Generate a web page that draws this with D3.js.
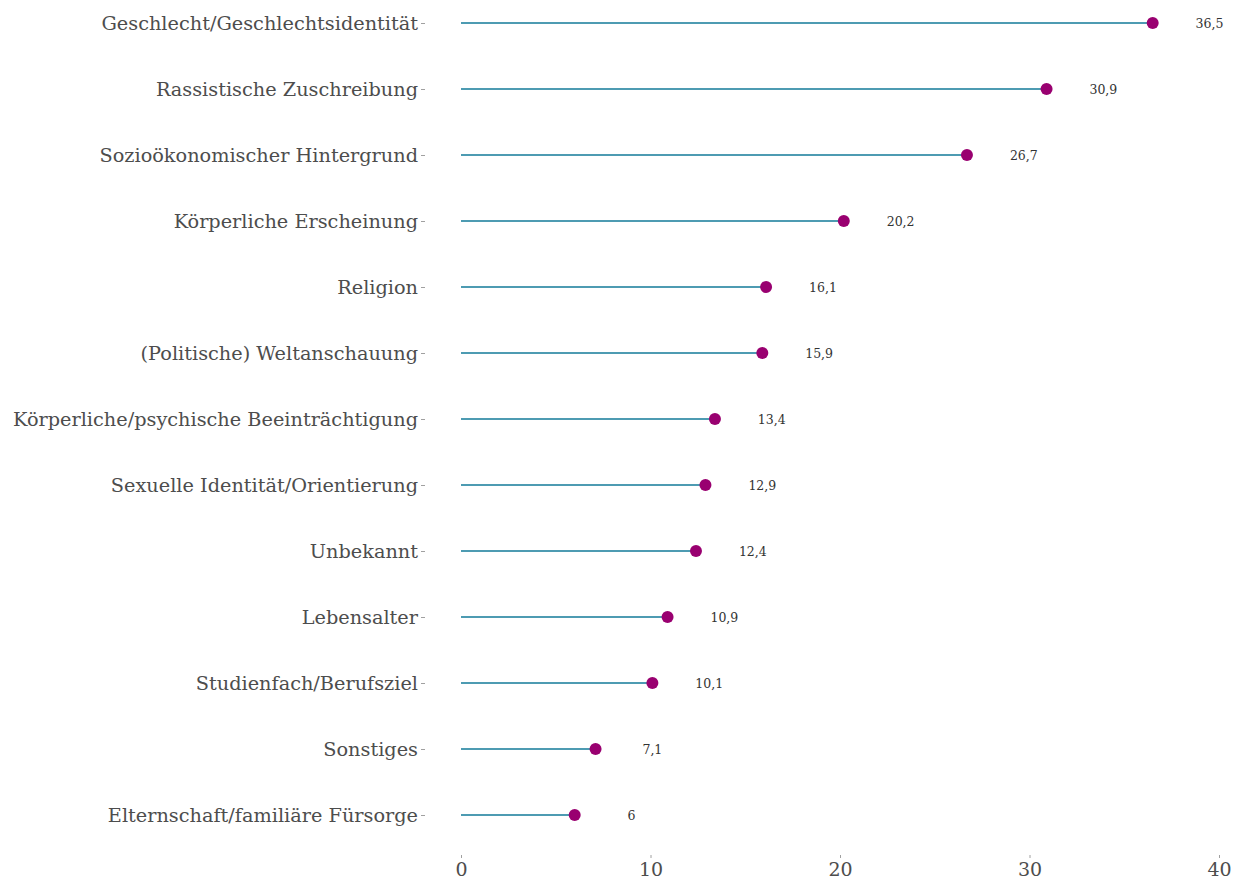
<!DOCTYPE html>
<html><head><meta charset="utf-8">
<script src="https://cdn.jsdelivr.net/npm/d3@7"></script>
<style>body{margin:0;background:#fff}svg{display:block}</style>
</head><body>
<svg id="c" width="1242" height="882"></svg>
<script>
const categories = ["Geschlecht/Geschlechtsidentität","Rassistische Zuschreibung","Sozioökonomischer Hintergrund","Körperliche Erscheinung","Religion","(Politische) Weltanschauung","Körperliche/psychische Beeinträchtigung","Sexuelle Identität/Orientierung","Unbekannt","Lebensalter","Studienfach/Berufsziel","Sonstiges","Elternschaft/familiäre Fürsorge"];
const values = [36.5,30.9,26.7,20.2,16.1,15.9,13.4,12.9,12.4,10.9,10.1,7.1,6];
const valueLabels = ["36,5","30,9","26,7","20,2","16,1","15,9","13,4","12,9","12,4","10,9","10,1","7,1","6"];
const xTicks = [0,10,20,30,40];

const svg = d3.select("#c");
const font = "'DejaVu Serif', 'Liberation Serif', serif";
const x = d3.scaleLinear().domain([0,40]).range([461,1219]);
const y = d3.scalePoint().domain(categories).range([23,815]);

// y axis
const ya = svg.append("g").attr("transform","translate(425,0)")
  .call(d3.axisLeft(y).tickSize(4).tickPadding(3));
ya.select(".domain").remove();
ya.selectAll("line").attr("stroke","#888").attr("stroke-width",0.8);
ya.selectAll("text").attr("font-family",font).attr("font-size",19.3).attr("fill","#4d4d4d");

// x axis
const xa = svg.append("g").attr("transform","translate(0,855)")
  .call(d3.axisBottom(x).tickValues(xTicks).tickSize(3).tickPadding(5).tickFormat(d3.format("d")));
xa.select(".domain").remove();
xa.selectAll("line").attr("stroke","#888").attr("stroke-width",0.8);
xa.selectAll("text").attr("font-family",font).attr("font-size",19).attr("fill","#4d4d4d");

const g = svg.append("g");
g.selectAll("line.stem").data(values).join("line")
  .attr("x1",x(0)).attr("x2",d=>x(d))
  .attr("y1",(d,i)=>y(categories[i])).attr("y2",(d,i)=>y(categories[i]))
  .attr("stroke","#127a98").attr("stroke-width",1.6);
g.selectAll("circle").data(values).join("circle")
  .attr("cx",d=>x(d)).attr("cy",(d,i)=>y(categories[i])).attr("r",6)
  .attr("fill","#990070");
g.selectAll("text.v").data(values).join("text")
  .attr("x",d=>x(d+3)).attr("y",(d,i)=>y(categories[i])+5)
  .attr("text-anchor","middle").attr("font-family",font).attr("font-size",12.5)
  .attr("fill","#333").text((d,i)=>valueLabels[i]);
</script>
</body></html>
